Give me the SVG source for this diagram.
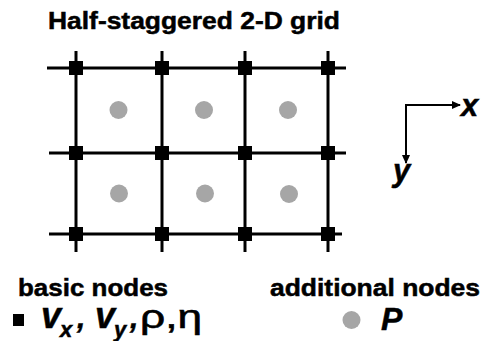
<svg xmlns="http://www.w3.org/2000/svg" width="485" height="341" viewBox="0 0 485 341">
<style>
.t{font-family:"Liberation Sans",Arial,sans-serif;font-weight:bold;fill:#000;stroke:#000;stroke-width:0.5}
.bi{font-family:"Liberation Sans",Arial,sans-serif;font-weight:bold;font-style:italic;fill:#000;stroke:#000;stroke-width:0.5}
.rg{font-family:"Liberation Sans",Arial,sans-serif;fill:#000;stroke:#000;stroke-width:0.6}
.gl{stroke:#000;stroke-width:3;fill:none}
.sq{fill:#000}
.pc{fill:#a6a6a6}
.ax{stroke:#000;stroke-width:2;fill:none}
</style>
<defs>
<marker id="ah" markerWidth="10" markerHeight="10" refX="8" refY="5" orient="auto" markerUnits="userSpaceOnUse">
<path d="M0,1 L9,5 L0,9 Z" fill="#000"/>
</marker>
</defs>
<rect width="485" height="341" fill="#fff"/>
<text class="t" x="48" y="29" font-size="24.5" textLength="292" lengthAdjust="spacingAndGlyphs">Half-staggered 2-D grid</text>
<g id="connectors">
<line class="gl" x1="47" y1="68" x2="346" y2="68"/>
<line class="gl" x1="49" y1="153" x2="346" y2="153"/>
<line class="gl" x1="49" y1="234" x2="342" y2="234"/>
<line class="gl" x1="76" y1="51" x2="76" y2="252"/>
<line class="gl" x1="162" y1="51" x2="162" y2="252"/>
<line class="gl" x1="245" y1="51" x2="245" y2="252"/>
<line class="gl" x1="328" y1="51" x2="328" y2="252"/>
</g>
<g id="basic-nodes">
<g id="b11"><rect class="sq" x="69" y="61" width="14" height="14"/></g>
<g id="b12"><rect class="sq" x="155" y="61" width="14" height="14"/></g>
<g id="b13"><rect class="sq" x="238" y="61" width="14" height="14"/></g>
<g id="b14"><rect class="sq" x="321" y="61" width="14" height="14"/></g>
<g id="b21"><rect class="sq" x="69" y="146" width="14" height="14"/></g>
<g id="b22"><rect class="sq" x="155" y="146" width="14" height="14"/></g>
<g id="b23"><rect class="sq" x="238" y="146" width="14" height="14"/></g>
<g id="b24"><rect class="sq" x="321" y="146" width="14" height="14"/></g>
<g id="b31"><rect class="sq" x="69" y="227" width="14" height="14"/></g>
<g id="b32"><rect class="sq" x="155" y="227" width="14" height="14"/></g>
<g id="b33"><rect class="sq" x="238" y="227" width="14" height="14"/></g>
<g id="b34"><rect class="sq" x="321" y="227" width="14" height="14"/></g>
</g>
<g id="additional-nodes">
<g id="p11"><circle class="pc" cx="118.5" cy="110" r="9"/></g>
<g id="p12"><circle class="pc" cx="204" cy="110" r="9"/></g>
<g id="p13"><circle class="pc" cx="288" cy="110" r="9"/></g>
<g id="p21"><circle class="pc" cx="119" cy="193.5" r="9"/></g>
<g id="p22"><circle class="pc" cx="205" cy="193.5" r="9"/></g>
<g id="p23"><circle class="pc" cx="289" cy="194" r="9"/></g>
</g>
<g id="axes">
<polyline class="ax" points="406,105 460,105" marker-end="url(#ah)"/>
<line class="ax" x1="406" y1="104" x2="406" y2="163" marker-end="url(#ah)"/>
<text class="bi" x="461" y="116" font-size="31">x</text>
<text class="bi" x="393" y="181" font-size="31">y</text>
</g>
<g id="legend">
<text class="t" x="18" y="296" font-size="24" textLength="150" lengthAdjust="spacingAndGlyphs">basic nodes</text>
<rect class="sq" x="13" y="314" width="11" height="12"/>
<text class="bi" font-size="36"><tspan x="41" y="328">v</tspan><tspan x="60" y="337" font-size="22">x</tspan><tspan x="77" y="328" font-size="30">,</tspan><tspan x="95" y="328">v</tspan><tspan x="114" y="337" font-size="22">y</tspan><tspan x="130" y="328" font-size="30">,</tspan></text>
<text class="rg" x="140" y="328" font-size="33" textLength="62" lengthAdjust="spacingAndGlyphs">ρ,η</text>
<text class="t" x="270" y="296" font-size="24" textLength="210" lengthAdjust="spacingAndGlyphs">additional nodes</text>
<circle class="pc" cx="351.5" cy="320" r="9"/>
<text class="bi" x="381" y="330" font-size="32">P</text>
</g>
</svg>
